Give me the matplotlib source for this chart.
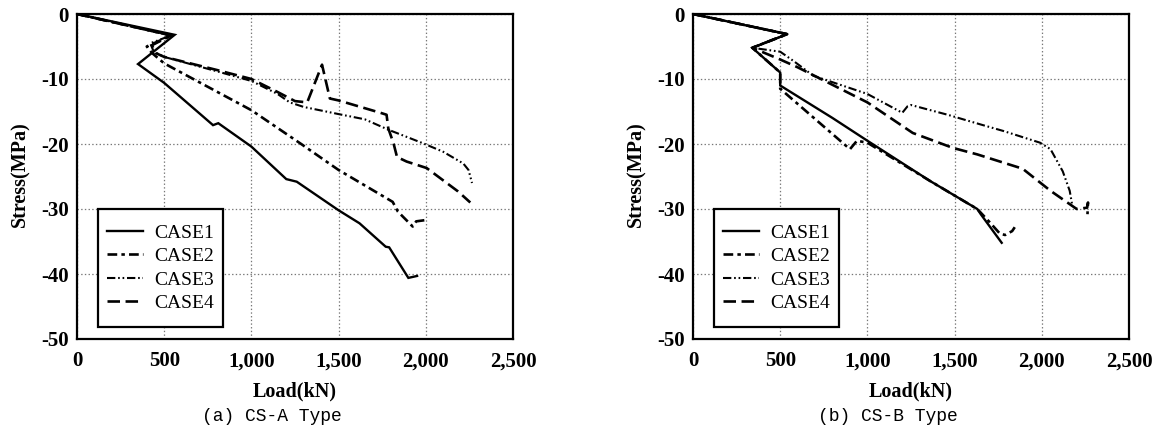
import matplotlib
matplotlib.use("Agg")
import matplotlib.pyplot as plt
from matplotlib.patches import Rectangle

plt.rcParams['font.family'] = ['Liberation Serif', 'DejaVu Serif']
plt.rcParams['axes.unicode_minus'] = False
plt.rcParams['lines.scale_dashes'] = False

# ---------------- data ----------------
case_labels = ["CASE1", "CASE2", "CASE3", "CASE4"]
x_ticks = [0, 500, 1000, 1500, 2000, 2500]
x_tick_labels = ["0", "500", "1,000", "1,500", "2,000", "2,500"]
y_ticks = [0, -10, -20, -30, -40, -50]
y_tick_labels = ["0", "-10", "-20", "-30", "-40", "-50"]
captions = ["(a) CS-A Type", "(b) CS-B Type"]
x_label = "Load(kN)"
y_label = "Stress(MPa)"

# (a) CS-A Type
a_case1_x = [0, 560, 350, 500, 780, 810, 1000, 1200, 1260, 1500, 1620, 1770, 1790, 1900, 1950]
a_case1_y = [0, -3.2, -7.7, -10.6, -17.1, -16.8, -20.4, -25.4, -25.8, -30.2, -32.2, -35.8, -35.9, -40.6, -40.3]
a_case2_x = [0, 540, 400, 430, 500, 1000, 1280, 1500, 1810, 1840, 1925, 1945, 2000]
a_case2_y = [0, -3.3, -5.0, -6.0, -7.6, -14.8, -19.9, -24.0, -28.9, -30.4, -32.7, -31.9, -31.7]
a_case3_x = [0, 540, 420, 440, 500, 800, 1000, 1150, 1220, 1300, 1500, 1650, 1785, 1985, 2100, 2215, 2245, 2265]
a_case3_y = [0, -3.3, -4.5, -5.8, -6.6, -8.8, -10.3, -12.3, -13.6, -14.3, -15.4, -16.2, -17.8, -19.9, -21.2, -23.0, -24.0, -26.0]
a_case4_x = [0, 540, 430, 450, 500, 800, 1000, 1150, 1250, 1320, 1405, 1450, 1500, 1740, 1775, 1785, 1815, 1835, 1890, 2005, 2185, 2255]
a_case4_y = [0, -3.3, -4.8, -6.0, -6.6, -8.6, -10.0, -12.0, -13.4, -13.6, -7.8, -13.0, -13.3, -15.2, -15.5, -17.6, -19.9, -22.0, -22.7, -23.7, -27.3, -29.0]

# (b) CS-B Type
b_case1_x = [0, 540, 340, 500, 500, 800, 1000, 1360, 1630, 1650, 1770]
b_case1_y = [0, -3.1, -5.2, -9.0, -11.0, -16.0, -19.5, -25.7, -30.0, -30.8, -35.2]
b_case2_x = [0, 540, 340, 500, 500, 900, 940, 1000, 1360, 1630, 1700, 1760, 1790, 1830, 1845]
b_case2_y = [0, -3.1, -5.2, -9.0, -11.5, -20.8, -19.5, -19.8, -25.7, -30.0, -32.0, -33.8, -34.0, -33.4, -32.8]
b_case3_x = [0, 540, 340, 500, 575, 690, 1000, 1200, 1230, 1250, 1460, 1650, 1780, 1990, 2050, 2120, 2160, 2175]
b_case3_y = [0, -3.1, -5.2, -5.8, -7.2, -9.5, -12.3, -15.2, -14.2, -14.0, -15.5, -17.0, -18.0, -19.8, -20.8, -24.2, -27.2, -29.5]
b_case4_x = [0, 540, 340, 500, 600, 1000, 1260, 1490, 1630, 1890, 2050, 2200, 2260, 2265, 2262]
b_case4_y = [0, -3.1, -5.2, -7.0, -8.2, -13.6, -18.3, -20.6, -21.6, -23.8, -27.2, -30.0, -29.8, -29.0, -30.8]

panels = [
    [(a_case1_x, a_case1_y), (a_case2_x, a_case2_y), (a_case3_x, a_case3_y), (a_case4_x, a_case4_y)],
    [(b_case1_x, b_case1_y), (b_case2_x, b_case2_y), (b_case3_x, b_case3_y), (b_case4_x, b_case4_y)],
]

# ---------------- styles ----------------
styles = [
    dict(linestyle='-', linewidth=1.7),
    dict(linestyle=(0, (7, 3, 2.5, 3)), linewidth=1.9),
    dict(linestyle=(0, (6, 2, 1.2, 2, 1.2, 2)), linewidth=1.5),
    dict(linestyle=(0, (9, 4)), linewidth=1.9),
]

W, H = 1162, 432
fig = plt.figure(figsize=(W / 100, H / 100), dpi=100)

ax_lefts = [77, 693]
ax_w, ax_top, ax_bot = 436, 14, 339

# legend box in axes fraction
lg_x0, lg_y0, lg_w, lg_h = 0.048, 0.037, 0.287, 0.363

for i, (left_px, series) in enumerate(zip(ax_lefts, panels)):
    ax = fig.add_axes([left_px / W, 1 - ax_bot / H, ax_w / W, (ax_bot - ax_top) / H])
    for (xs, ys), st, lab in zip(series, styles, case_labels):
        ax.plot(xs, ys, color='black', label=lab, solid_joinstyle='miter', **st)
    ax.set_xlim(0, 2500)
    ax.set_ylim(-50, 0)
    ax.set_xticks(x_ticks)
    ax.set_xticklabels(x_tick_labels)
    ax.set_yticks(y_ticks)
    ax.set_yticklabels(y_tick_labels)
    ax.tick_params(axis='both', length=0, labelsize=15)
    ax.tick_params(axis='x', pad=9)
    ax.tick_params(axis='y', pad=6)
    for lbl in ax.get_xticklabels() + ax.get_yticklabels():
        lbl.set_fontweight('bold')
    ax.grid(True, color='#777777', linestyle=':', linewidth=0.9)
    for sp in ax.spines.values():
        sp.set_linewidth(1.6)
        sp.set_color('black')

    rect = Rectangle((lg_x0, lg_y0), lg_w, lg_h, transform=ax.transAxes,
                     facecolor='white', edgecolor='black', linewidth=1.6, zorder=4)
    ax.add_patch(rect)
    leg = ax.legend(loc='center', bbox_to_anchor=(lg_x0 + lg_w / 2, lg_y0 + lg_h / 2),
                    borderaxespad=0, fontsize=14, handlelength=1.85, handletextpad=0.55,
                    labelspacing=0.3, borderpad=0.0, frameon=False)
    leg.set_zorder(5)

    cx = (left_px + ax_w / 2) / W
    fig.text(cx, 1 - 391 / H, x_label, ha='center', va='center', fontsize=14.5, fontweight='bold')
    fig.text((left_px + ax_w / 2 - 23) / W, 1 - 416.5 / H, captions[i], ha='center', va='center',
             fontsize=13, family=['Liberation Mono', 'DejaVu Sans Mono'])
    fig.text((left_px - 57) / W, 1 - 174 / H, y_label, ha='center', va='center', rotation=90,
             fontsize=14.5, fontweight='bold')

fig.savefig("out.png", dpi=100)
